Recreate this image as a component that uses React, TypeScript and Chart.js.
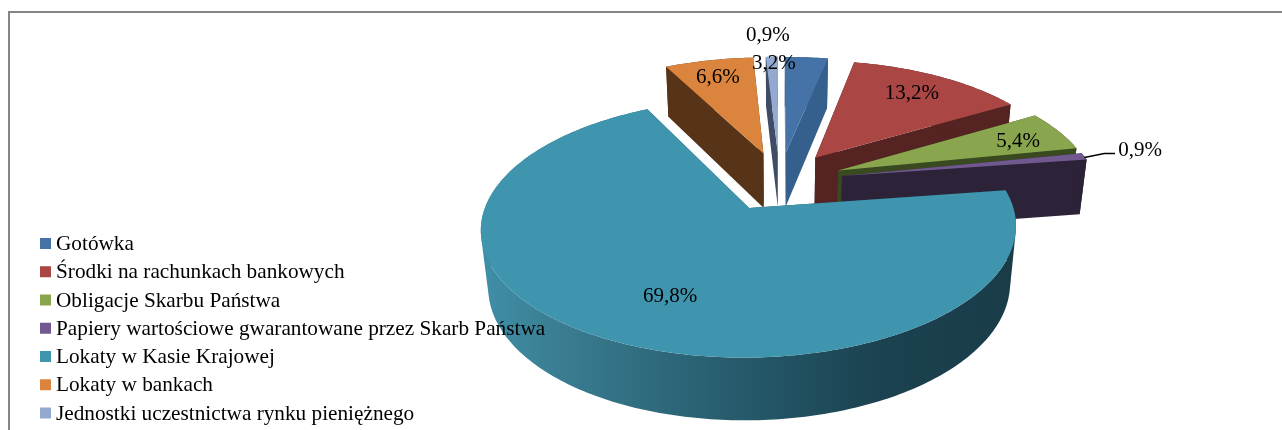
import React, { useEffect, useRef } from "react";
import { Chart, registerables } from "chart.js";

Chart.register(...registerables);

const categories = [
  "Gotówka",
  "Środki na rachunkach bankowych",
  "Obligacje Skarbu Państwa",
  "Papiery wartościowe gwarantowane przez Skarb Państwa",
  "Lokaty w Kasie Krajowej",
  "Lokaty w bankach",
  "Jednostki uczestnictwa rynku pieniężnego",
];
const shares = [3.2, 13.2, 5.4, 0.9, 69.8, 6.6, 0.9];
const topColors = ["#4572A7", "#AA4643", "#89A54E", "#71588F", "#3F94AE", "#DB843D", "#93A9CF"];
const wallColors = ["#355F8C", "#552321", "#3A4A20", "#2C2339", "#1C4452", "#573317", "#3F4C66"];
const labelShifts: [number, number][] = [
  [-29, -11],
  [-5, 2],
  [2, 3],
  [0, 0],
  [34, -12],
  [-1, 0],
  [-5, -39],
];

const FONT = '"Liberation Serif", "Times New Roman", serif';

// Perspective view of the pie's plane
const view = { cx: 779.5, cy: 181, A: 255.5, B: 118, k: 0.15, m: 0.024, H: 57, explode: 0.25 };

function project(u: number, v: number, d: number): [number, number] {
  const w = 1 + view.k * v + view.m * d;
  return [view.cx + (view.A * u) / w, view.cy - (view.B * v - view.H * d) / w];
}

type Arc = { startAngle: number; endAngle: number };
type Pt = [number, number];

function sliceGeometry(arc: Arc) {
  const a0 = arc.startAngle + Math.PI / 2;
  const a1 = arc.endAngle + Math.PI / 2;
  const mid = (a0 + a1) / 2;
  const ou = view.explode * Math.sin(mid);
  const ov = view.explode * Math.cos(mid);
  const at = (t: number, r: number, d: number) =>
    project(ou + r * Math.sin(t), ov + r * Math.cos(t), d);
  return { a0, a1, mid, at };
}

function poly(ctx: CanvasRenderingContext2D, pts: Pt[], fill: string | CanvasGradient) {
  ctx.beginPath();
  pts.forEach((p, i) => (i ? ctx.lineTo(p[0], p[1]) : ctx.moveTo(p[0], p[1])));
  ctx.closePath();
  ctx.fillStyle = fill;
  ctx.fill();
}

function rimPoints(g: ReturnType<typeof sliceGeometry>, d: number) {
  const n = Math.max(4, Math.ceil(((g.a1 - g.a0) * 180) / Math.PI));
  const pts: Pt[] = [];
  for (let i = 0; i <= n; i++) {
    pts.push(g.at(g.a0 + ((g.a1 - g.a0) * i) / n, 1, d));
  }
  return pts;
}

// All rim quads go in one path with the same winding, so there are no seams
function fillWall(ctx: CanvasRenderingContext2D, upper: Pt[], lower: Pt[], fill: string | CanvasGradient) {
  ctx.beginPath();
  for (let s = 0; s + 1 < upper.length; s++) {
    let q: Pt[] = [upper[s], upper[s + 1], lower[s + 1], lower[s]];
    let area = 0;
    q.forEach((p, i) => {
      const n = q[(i + 1) % 4];
      area += p[0] * n[1] - n[0] * p[1];
    });
    if (area < 0) q = q.reverse();
    q.forEach((p, i) => (i ? ctx.lineTo(p[0], p[1]) : ctx.moveTo(p[0], p[1])));
    ctx.closePath();
  }
  ctx.fillStyle = fill;
  ctx.fill();
}

const pie3d = {
  id: "pie3d",
  beforeDatasetsDraw(chart: any) {
    const ctx: CanvasRenderingContext2D = chart.ctx;
    const arcs: Arc[] = chart.getDatasetMeta(0).data;
    // frame: left and top edges only are visible in the picture
    ctx.save();
    ctx.strokeStyle = "#868686";
    ctx.lineWidth = 2;
    ctx.beginPath();
    ctx.moveTo(9, 431);
    ctx.lineTo(9, 12);
    ctx.lineTo(1283, 12);
    ctx.stroke();

    // back-to-front: the slices around the top, then the large front slice
    const order = [5, 6, 0, 1, 2, 3, 4];
    for (const i of order) {
      const g = sliceGeometry(arcs[i]);
      const apexTop = g.at(0, 0, 0);
      const apexBottom = g.at(0, 0, 1);
      const wall = wallColors[i];
      // cut faces
      poly(ctx, [apexTop, g.at(g.a0, 1, 0), g.at(g.a0, 1, 1), apexBottom], wall);
      poly(ctx, [apexTop, g.at(g.a1, 1, 0), g.at(g.a1, 1, 1), apexBottom], wall);
      // outer wall
      let fill: string | CanvasGradient = wall;
      if (i === 4) {
        const grad = ctx.createLinearGradient(481, 0, 1010, 0);
        grad.addColorStop(0, "#3F8FA8");
        grad.addColorStop(0.15, "#3A7D91");
        grad.addColorStop(0.35, "#2D687A");
        grad.addColorStop(0.55, "#235565");
        grad.addColorStop(0.75, "#1B4250");
        grad.addColorStop(1, "#1A3C49");
        fill = grad;
      }
      const upper = rimPoints(g, 0);
      fillWall(ctx, upper, rimPoints(g, 1), fill);
      // top face
      poly(ctx, [apexTop, ...upper], topColors[i]);
    }
    ctx.restore();
    return false;
  },
  afterDraw(chart: any) {
    const ctx: CanvasRenderingContext2D = chart.ctx;
    const arcs: Arc[] = chart.getDatasetMeta(0).data;
    ctx.save();
    ctx.fillStyle = "#000";
    ctx.font = `21px ${FONT}`;
    ctx.textBaseline = "middle";
    // value labels
    ctx.textAlign = "center";
    shares.forEach((v, i) => {
      const g = sliceGeometry(arcs[i]);
      const text = v.toFixed(1).replace(".", ",") + "%";
      if (i === 3) {
        const rim = g.at(g.mid, 1, 0);
        const lx = 1140;
        const ly = rim[1] - 8;
        ctx.strokeStyle = "#000";
        ctx.lineWidth = 1.5;
        ctx.beginPath();
        ctx.moveTo(rim[0], rim[1] + 1);
        ctx.lineTo(rim[0] + 20, ly + 5);
        ctx.lineTo(lx - 25, ly + 5);
        ctx.stroke();
        ctx.fillText(text, lx, ly + 2);
        return;
      }
      const p = g.at(g.mid, 0.8, 0);
      ctx.fillText(text, p[0] + labelShifts[i][0], p[1] + labelShifts[i][1]);
    });
    // legend
    ctx.font = `21.25px ${FONT}`;
    ctx.textAlign = "left";
    categories.forEach((name, i) => {
      const y = 243.5 + i * 28.25;
      ctx.fillStyle = topColors[i];
      ctx.fillRect(40, y - 5.5, 11, 11);
      ctx.fillStyle = "#000";
      ctx.fillText(name, 56, y + 1);
    });
    ctx.restore();
  },
};

export default function App() {
  const ref = useRef<HTMLCanvasElement>(null);
  useEffect(() => {
    const chart = new Chart(ref.current!, {
      type: "pie",
      data: {
        labels: categories,
        datasets: [{ data: shares, backgroundColor: topColors, borderWidth: 0 }],
      },
      options: {
        animation: false,
        responsive: false,
        devicePixelRatio: 1,
        plugins: { legend: { display: false }, tooltip: { enabled: false } },
      },
      plugins: [pie3d],
    } as any);
    return () => chart.destroy();
  }, []);
  return (
    <div style={{ position: "absolute", left: 0, top: 0, width: 1282, height: 430, overflow: "hidden", background: "#fff" }}>
      <canvas ref={ref} width={1282} height={430} style={{ display: "block" }} />
    </div>
  );
}
